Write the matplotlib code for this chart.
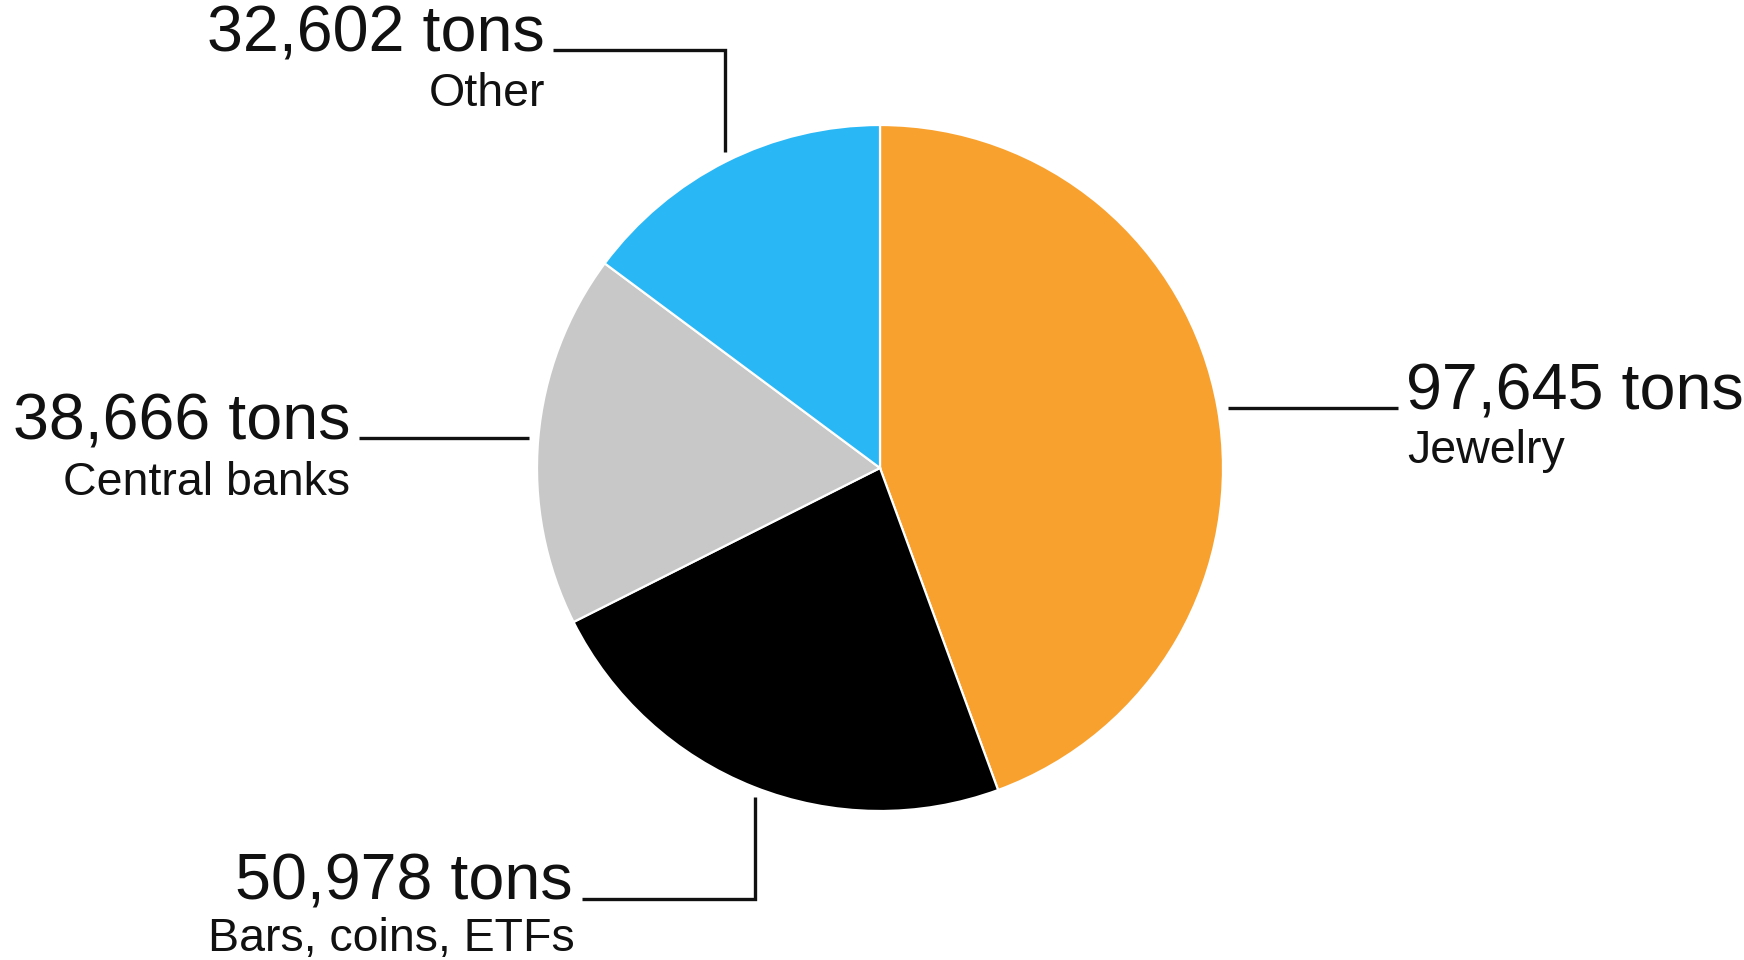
import matplotlib
matplotlib.use("Agg")
import matplotlib.pyplot as plt

# Gold above ground, by use (tons)
categories = ["Jewelry", "Bars, coins, ETFs", "Central banks", "Other"]
tons = [97645, 50978, 38666, 32602]
colors = ["#F9A12E", "#000000", "#C8C8C8", "#29B7F6"]

W, H = 1744, 960
fig = plt.figure(figsize=(W / 100, H / 100), dpi=100)
ax = fig.add_axes([0, 0, 1, 1])


def py(y):
    # convert top-down pixel row to axis y
    return H - y


ax.pie(tons, colors=colors, startangle=90, counterclock=False,
       center=(880, py(468)), radius=343,
       wedgeprops=dict(edgecolor="white", linewidth=1.6))

# pie() resets the limits, so fix the pixel-space frame afterwards
ax.set_xlim(0, W)
ax.set_ylim(0, H)
ax.set_aspect("equal")
ax.axis("off")

font = "Liberation Sans"
big, small = 46.5, 33.5

# label layout: value anchor, category anchor, alignment, leader path
layout = {
    "Other": dict(value=(545, 52), sub=(545, 106), ha="right",
                  leader=[(553, 50), (725, 50), (725, 152)]),
    "Central banks": dict(value=(350, 439), sub=(350, 495), ha="right",
                          leader=[(359, 438), (529, 438)]),
    "Jewelry": dict(value=(1406, 409), sub=(1407, 463), ha="left",
                    leader=[(1228, 408), (1398, 408)]),
    "Bars, coins, ETFs": dict(value=(573, 899), sub=(575, 951), ha="right",
                              leader=[(582, 899), (755, 899), (755, 797)]),
}

for cat, val in zip(categories, tons):
    lay = layout[cat]
    vx, vy = lay["value"]
    sx, sy = lay["sub"]
    ax.text(vx, py(vy), f"{val:,} tons", ha=lay["ha"], va="baseline",
            fontsize=big, family=font, color="#111111")
    ax.text(sx, py(sy), cat, ha=lay["ha"], va="baseline",
            fontsize=small, family=font, color="#111111")
    xs = [p[0] for p in lay["leader"]]
    ys = [py(p[1]) for p in lay["leader"]]
    ax.plot(xs, ys, color="#111111", linewidth=2.4,
            solid_joinstyle="miter", solid_capstyle="butt")

fig.savefig("out.png", dpi=100, facecolor="white")
